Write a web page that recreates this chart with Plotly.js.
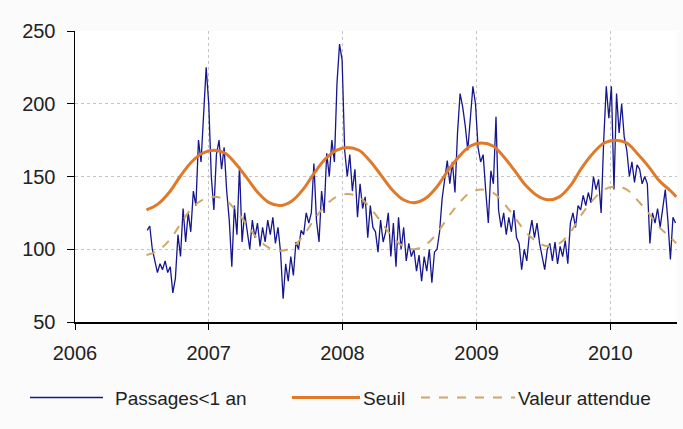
<!DOCTYPE html>
<html>
<head>
<meta charset="utf-8">
<script src="https://cdn.plot.ly/plotly-3.0.1.min.js"></script>
<style>html,body{margin:0;padding:0;background:#fbfbfb;}#chart{width:683px;height:429px;}</style>
</head>
<body>
<div id="chart"></div>
<script>
// Weekly series "Passages<1 an", first week starting 2006-07-17
const passagesStart = '2006-07-17';
const passages = [
  113,116,100,92,84,90,86,92,84,88,70,80,
  110,95,128,105,125,112,140,130,175,160,190,225,
  200,150,127,165,175,155,170,140,120,88,130,110,157,105,125,
  112,100,120,108,118,102,115,105,120,110,122,104,115,
  98,66,90,78,95,82,105,100,113,110,125,118,
  125,159,120,105,140,125,166,150,175,160,214,241,230,
  168,150,165,140,155,122,145,128,136,108,130,115,
  112,98,120,105,112,125,95,118,88,122,100,115,
  92,104,95,100,85,96,78,95,85,100,77,98,
  100,112,135,150,161,145,160,139,180,207,198,185,168,190,212,200,
  170,160,165,140,118,154,145,191,127,115,125,110,122,112,127,108,
  104,86,100,92,110,120,108,118,104,95,86,100,104,92,105,90,
  102,95,106,90,118,125,115,130,127,137,130,139,132,150,141,148,
  125,175,212,190,212,141,207,180,200,177,168,150,160,146,158,155,
  145,150,145,104,125,118,128,115,130,141,120,93,122,118
];
// Monthly series
const monthDates = [
  '2006-07-15','2006-08-15','2006-09-15','2006-10-15','2006-11-15','2006-12-15',
  '2007-01-15','2007-02-15','2007-03-15','2007-04-15','2007-05-15','2007-06-15',
  '2007-07-15','2007-08-15','2007-09-15','2007-10-15','2007-11-15','2007-12-15',
  '2008-01-15','2008-02-15','2008-03-15','2008-04-15','2008-05-15','2008-06-15',
  '2008-07-15','2008-08-15','2008-09-15','2008-10-15','2008-11-15','2008-12-15',
  '2009-01-15','2009-02-15','2009-03-15','2009-04-15','2009-05-15','2009-06-15',
  '2009-07-15','2009-08-15','2009-09-15','2009-10-15','2009-11-15','2009-12-15',
  '2010-01-15','2010-02-15','2010-03-15','2010-04-15','2010-05-15','2010-06-15',
  '2010-06-30'
];
const seuil = [
  127,131,139,150,160,166,
  168,166,159,149,139,132,
  130,133,141,152,162,168,
  170,168,161,151,141,134,
  132,135,143,154,164,171,
  173,171,164,154,144,137,
  134,136,144,156,166,173,
  175,173,166,157,147,140,
  136
];
const valeurAttendue = [
  96,99,106,117,128,134,
  136,134,127,117,107,101,
  99,101,109,120,130,136,
  138,136,129,119,109,102,
  100,103,111,122,132,139,
  141,139,132,122,112,105,
  102,104,112,124,134,141,
  143,141,134,125,115,108,
  104
];
const yTicks = [50,100,150,200,250];

const d0 = new Date(passagesStart + 'T00:00:00Z');
const passagesDates = passages.map((v,i)=>{
  const d = new Date(d0.getTime() + i*7*86400000);
  return d.toISOString().slice(0,10);
});

const traces = [
  {x: passagesDates, y: passages, type:'scatter', mode:'lines', name:'Passages<1 an',
   line:{color:'#16168e', width:1.3}},
  {x: monthDates, y: seuil, type:'scatter', mode:'lines', name:'Seuil',
   line:{color:'#e07a2a', width:3, shape:'spline'}},
  {x: monthDates, y: valeurAttendue, type:'scatter', mode:'lines', name:'Valeur attendue',
   line:{color:'#cfa868', width:2, dash:'dash', shape:'spline'}}
];

const layout = {
  width:683, height:429,
  margin:{l:75, r:6, t:31, b:107},
  paper_bgcolor:'#fbfbfb', plot_bgcolor:'#ffffff',
  font:{family:'Liberation Sans, Arial, sans-serif', size:20, color:'#222'},
  showlegend:true,
  legend:{orientation:'h', x:0.49, xanchor:'center', y:-0.26, yanchor:'middle',
    font:{size:19, color:'#222'}, bgcolor:'rgba(0,0,0,0)', itemwidth:60, tracegroupgap:0},
  xaxis:{type:'date', range:['2006-01-01','2010-07-02'], dtick:'M12', tick0:'2006-01-01',
    tickformat:'%Y', showline:true, linecolor:'#000', linewidth:1.5,
    ticks:'outside', ticklen:6, tickcolor:'#000', showgrid:true, gridcolor:'#c4c4c4',
    griddash:'dot', zeroline:false, ticklabelstandoff:6},
  yaxis:{range:[50,250], tickvals:yTicks, showline:true, linecolor:'#000', linewidth:1.5,
    ticks:'outside', ticklen:7, tickcolor:'#000', showgrid:true, gridcolor:'#c4c4c4',
    griddash:'dot', zeroline:false, ticklabelstandoff:7}
};

// Legend layout like the original: long line samples (page pixels)
const legendSlots = [
  {line:[30,103], text:115},
  {line:[292,360], text:363},
  {line:[421,515], text:518}
];

Plotly.newPlot('chart', traces, layout, {displayModeBar:false, staticPlot:true}).then(gd => {
  try {
    const leg = gd.querySelector('.legend');
    [leg, ...leg.querySelectorAll('*')].forEach(el => el.removeAttribute('clip-path'));
    const items = gd.querySelectorAll('.legend .traces');
    items.forEach((it, i) => {
      const slot = legendSlots[i];
      if (!slot) return;
      const txt = it.querySelector('text.legendtext');
      const tx = parseFloat(txt.getAttribute('x')) || 40;
      const origin = txt.getBoundingClientRect().left - tx;
      txt.setAttribute('x', slot.text - origin);
      it.querySelectorAll('path.js-line').forEach(p => {
        p.setAttribute('d', 'M' + (slot.line[0] - origin) + ',0H' + (slot.line[1] - origin));
      });
    });
  } catch (e) {}
});
</script>
</body>
</html>
